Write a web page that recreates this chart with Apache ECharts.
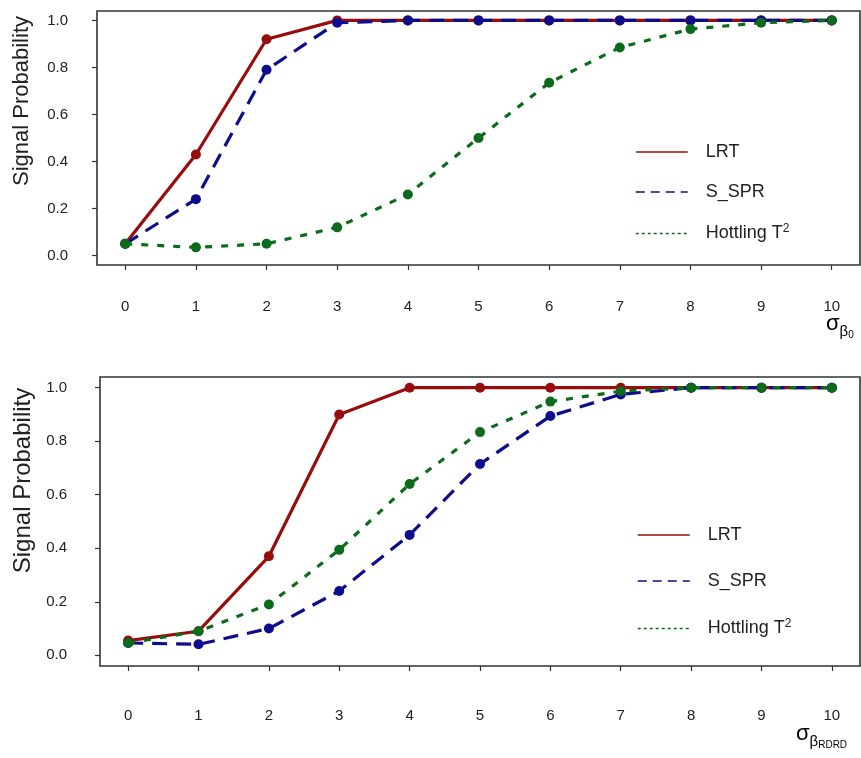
<!DOCTYPE html>
<html>
<head>
<meta charset="utf-8">
<script src="https://cdn.jsdelivr.net/npm/echarts@6/dist/echarts.min.js"></script>
<style>
  html, body { margin: 0; padding: 0; background: #fff; }
  #main { width: 861px; height: 758px; }
</style>
</head>
<body>
<div id="main"></div>
<script>
// x positions (sigma) and tick labels
var xValues = [0, 1, 2, 3, 4, 5, 6, 7, 8, 9, 10];
var yTicks = [0, 0.2, 0.4, 0.6, 0.8, 1.0];
var seriesNames = ['LRT', 'S_SPR', 'Hottling T2'];

// top panel: sigma beta0
var lrtTop = [0.05, 0.43, 0.92, 1, 1, 1, 1, 1, 1, 1, 1];
var sprTop = [0.05, 0.24, 0.79, 0.99, 1, 1, 1, 1, 1, 1, 1];
var hotTop = [0.05, 0.035, 0.05, 0.12, 0.26, 0.50, 0.735, 0.885, 0.963, 0.99, 1];

// bottom panel: sigma beta RDRD
var lrtBot = [0.055, 0.09, 0.37, 0.90, 1, 1, 1, 1, 1, 1, 1];
var sprBot = [0.046, 0.041, 0.10, 0.24, 0.45, 0.715, 0.894, 0.975, 1, 1, 1];
var hotBot = [0.046, 0.09, 0.19, 0.394, 0.64, 0.834, 0.948, 0.987, 1, 1, 1];

var colors = ['#980c0c', '#0c0c8c', '#0b6b1b'];
var dashes = ['solid', [15, 9], [7, 9]];
var legendDash = ['solid', [9, 6], [3, 3]];
var font = 'Liberation Sans, Arial, sans-serif';

function pairs(vals) {
  return xValues.map(function (x, i) { return [x, vals[i]]; });
}

function makeSeries(idx, vals, axis) {
  return {
    name: seriesNames[idx],
    type: 'line',
    xAxisIndex: axis,
    yAxisIndex: axis,
    data: pairs(vals),
    symbol: 'circle',
    symbolSize: 10,
    z: 2 + idx,
    itemStyle: { color: colors[idx] },
    lineStyle: { color: colors[idx], width: 3.2, type: dashes[idx] },
    animation: false
  };
}

function xAxisCfg(grid, margin) {
  return {
    type: 'value',
    gridIndex: grid,
    min: -0.4,
    max: 10.4,
    axisLine: { show: false, onZero: false },
    splitLine: { show: false },
    axisTick: { show: true, length: 5, customValues: xValues, lineStyle: { color: '#333', width: 1.2 } },
    axisLabel: {
      customValues: xValues, margin: margin, fontSize: 15, color: '#222', fontFamily: font
    }
  };
}

function yAxisCfg(grid, pad, gap, margin, nameSize) {
  return {
    type: 'value',
    gridIndex: grid,
    min: -0.04,
    max: 1.04,
    name: 'Signal Probability',
    nameLocation: 'middle',
    nameGap: gap,
    nameTextStyle: { fontSize: nameSize, color: '#222', fontFamily: font, padding: [0, 0, 0, pad] },
    axisLine: { show: false, onZero: false },
    splitLine: { show: false },
    axisTick: { show: true, length: 5, customValues: yTicks, lineStyle: { color: '#333', width: 1.2 } },
    axisLabel: {
      customValues: yTicks, margin: margin, fontSize: 15, color: '#222', fontFamily: font,
      formatter: function (v) { return v.toFixed(1); }
    }
  };
}

function legendCfg(left, top, gap) {
  return {
    orient: 'vertical',
    left: left,
    top: top,
    itemWidth: 52,
    itemHeight: 14,
    itemGap: gap,
    selectedMode: false,
    data: seriesNames.map(function (n, i) {
      return {
        name: n,
        itemStyle: { opacity: 0 },
        lineStyle: { color: colors[i], width: 1.5, type: legendDash[i] }
      };
    }),
    formatter: function (name) {
      return name === 'Hottling T2' ? 'Hottling T{sup|2}' : name;
    },
    textStyle: {
      fontSize: 18, color: '#222', fontFamily: font, padding: [0, 0, 0, 13],
      rich: {
        sup: { fontSize: 12, fontFamily: font, color: '#222', verticalAlign: 'top', padding: [0, 0, 9, 0] }
      }
    }
  };
}

var sigmaRich = {
  s: { fontSize: 22, fontFamily: font, color: '#222', verticalAlign: 'top' },
  b: { fontSize: 15, fontFamily: font, color: '#222', verticalAlign: 'top', padding: [11, 0, 0, 0] },
  r: { fontSize: 10, fontFamily: font, color: '#222', verticalAlign: 'top', padding: [17, 0, 0, 0] }
};

var chart = echarts.init(document.getElementById('main'));
var option = {
  backgroundColor: '#fff',
  grid: [
    { left: 97, right: 1, top: 11, height: 254, show: true, borderColor: '#333', borderWidth: 1.6 },
    { left: 100, right: 1, top: 377, height: 289, show: true, borderColor: '#333', borderWidth: 1.6 }
  ],
  xAxis: [xAxisCfg(0, 34), xAxisCfg(1, 42)],
  yAxis: [yAxisCfg(0, 74, 64, 29, 22), yAxisCfg(1, 82, 65, 33, 24)],
  legend: [legendCfg(630, 138, 22), legendCfg(632, 521, 28)],
  graphic: [
    { type: 'text', left: 826, top: 313, style: { text: '{s|σ}{b|β}{r|0}', rich: sigmaRich } },
    { type: 'text', left: 796, top: 723, style: { text: '{s|σ}{b|β}{r|RDRD}', rich: sigmaRich } }
  ],
  series: [
    makeSeries(0, lrtTop, 0),
    makeSeries(1, sprTop, 0),
    makeSeries(2, hotTop, 0),
    makeSeries(0, lrtBot, 1),
    makeSeries(1, sprBot, 1),
    makeSeries(2, hotBot, 1)
  ]
};
chart.setOption(option);
</script>
</body>
</html>
